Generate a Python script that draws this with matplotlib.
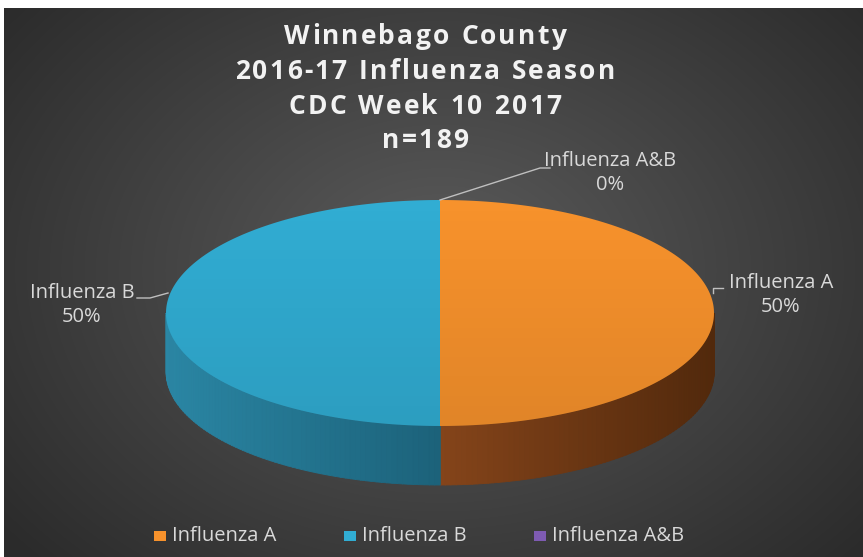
import numpy as np
import matplotlib
matplotlib.use('Agg')
import matplotlib.pyplot as plt
from matplotlib.patches import Polygon, Rectangle
from matplotlib.colors import to_rgb

# Datos del grafico
categories = ['Influenza A', 'Influenza B', 'Influenza A&B']
shares = [50, 50, 0]
top_colors = ['#F7922C', '#31ADD3', '#7E5BB2']
side_light = ['#84441A', '#2A86A4', '#5E3F8A']
side_dark = ['#52290C', '#1C627A', '#43296A']
title_lines = ['Winnebago County', '2016-17 Influenza Season',
               'CDC Week 10 2017', 'n=189']

W, H = 863, 557
fig = plt.figure(figsize=(W / 100, H / 100), dpi=100)
fig.patch.set_facecolor('white')
ax = fig.add_axes([0, 0, 1, 1])
ax.set_xlim(0, W)
ax.set_ylim(H, 0)
ax.axis('off')

# Fondo con degradado radial
yy, xx = np.mgrid[8:H, 4:W]
r = np.sqrt(((xx - 440) / 560.0) ** 2 + ((yy - 270) / 420.0) ** 2)
r = np.clip(r, 0, 1)
c0 = np.array([0.36, 0.36, 0.36])
c1 = np.array([0.17, 0.17, 0.17])
bg = c0[None, None, :] * (1 - r[..., None]) + c1[None, None, :] * r[..., None]
ax.imshow(bg, extent=[4, W, H, 8], aspect='auto', zorder=0)

# Pie 3D
cx, cy, a, b, depth = 440, 313, 274, 113, 59


def pt(theta, dy=0.0):
    return cx + a * np.cos(theta), cy - b * np.sin(theta) + dy


total = float(sum(shares))
start = np.pi / 2
spans = []
for i, s in enumerate(shares):
    sweep = 2 * np.pi * s / total
    spans.append((start - sweep, start))
    start -= sweep

# paredes laterales (solo la mitad frontal)
for i, (t0, t1) in enumerate(spans):
    if t1 - t0 <= 0:
        continue
    for k in range(-1, 1):
        lo = max(t0, np.pi + 2 * np.pi * k)
        hi = min(t1, 2 * np.pi + 2 * np.pi * k)
        if hi <= lo:
            continue
        n = 80
        th = np.linspace(lo, hi, n + 1)
        cl, cd = np.array(to_rgb(side_light[i])), np.array(to_rgb(side_dark[i]))
        for j in range(n):
            x1, y1 = pt(th[j])
            x2, y2 = pt(th[j + 1])
            xm = 0.5 * (x1 + x2)
            if i == 0:
                f = np.clip((xm - cx) / a, 0, 1)
            else:
                f = np.clip((xm - (cx - a)) / a, 0, 1)
            col = cl * (1 - f) + cd * f
            poly = Polygon([(x1, y1), (x2 + 0.3, y2), (x2 + 0.3, y2 + depth),
                            (x1, y1 + depth)], closed=True, fc=col, ec=col,
                           lw=0.6, zorder=2)
            ax.add_patch(poly)

# cara superior
for i, (t0, t1) in enumerate(spans):
    if t1 - t0 <= 0:
        continue
    th = np.linspace(t0, t1, 200)
    xs, ys = pt(th)
    verts = [(cx, cy)] + list(zip(xs, ys))
    ax.add_patch(Polygon(verts, closed=True, fc=top_colors[i], ec='none', zorder=3))

th = np.linspace(0, 2 * np.pi, 400)
ex, ey = pt(th)
ellipse = Polygon(list(zip(ex, ey)), closed=True, fc='none', ec='none', zorder=3)
ax.add_patch(ellipse)
grad = np.zeros((100, 2, 4))
grad[..., 3] = np.linspace(0.0, 0.09, 100)[:, None]
im = ax.imshow(grad, extent=[cx - a, cx + a, cy + b, cy - b], aspect='auto', zorder=4)
im.set_clip_path(ellipse)


# Titulo con espaciado entre letras
def spaced_text(x, y, s, track, **kw):
    fig.canvas.draw()
    rend = fig.canvas.get_renderer()
    widths = []
    for ch in s:
        t = ax.text(0, 0, ch if ch != ' ' else 'n', **kw)
        bb = t.get_window_extent(renderer=rend)
        w = bb.width if ch != ' ' else bb.width * 0.45
        widths.append(w)
        t.remove()
    tot = sum(widths) + track * (len(s) - 1)
    xpos = x - tot / 2
    for ch, w in zip(s, widths):
        if ch != ' ':
            ax.text(xpos, y, ch, ha='left', va='center', **kw)
        xpos += w + track


for k, line in enumerate(title_lines):
    spaced_text(425, 37 + 34.5 * k, line, 2.2, color='#F2F2F2', fontsize=19,
                fontweight='bold', family='Open Sans', zorder=5)

# Etiquetas de datos
lab_col = '#D9D9D9'
lead_col = '#BFBFBF'
label_pos = [(781, 295), (82, 305), (610, 173)]
for i, (lx, ly) in enumerate(label_pos):
    ax.text(lx, ly, f'{categories[i]}\n{shares[i] / total:.0%}', ha='center', va='center',
            color=lab_col, fontsize=14.5, family='Open Sans', linespacing=1.25, zorder=5)

ax.plot([713, 713, 723], [293, 288, 288], color=lead_col, lw=1, zorder=5)
ax.plot([137, 150, 168], [298, 298, 293], color=lead_col, lw=1, zorder=5)
ax.plot([440, 540, 550], [200, 168, 168], color=lead_col, lw=1, zorder=5)

# Leyenda
leg_x = [160, 350, 540]
for i, lx in enumerate(leg_x):
    ax.add_patch(Rectangle((lx - 6, 531), 12, 10, fc=top_colors[i], ec='none', zorder=5))
    ax.text(lx + 12, 536, categories[i], ha='left', va='center', color=lab_col,
            fontsize=14.5, family='Open Sans', zorder=5)

fig.savefig('out.png', dpi=100, facecolor='white')
